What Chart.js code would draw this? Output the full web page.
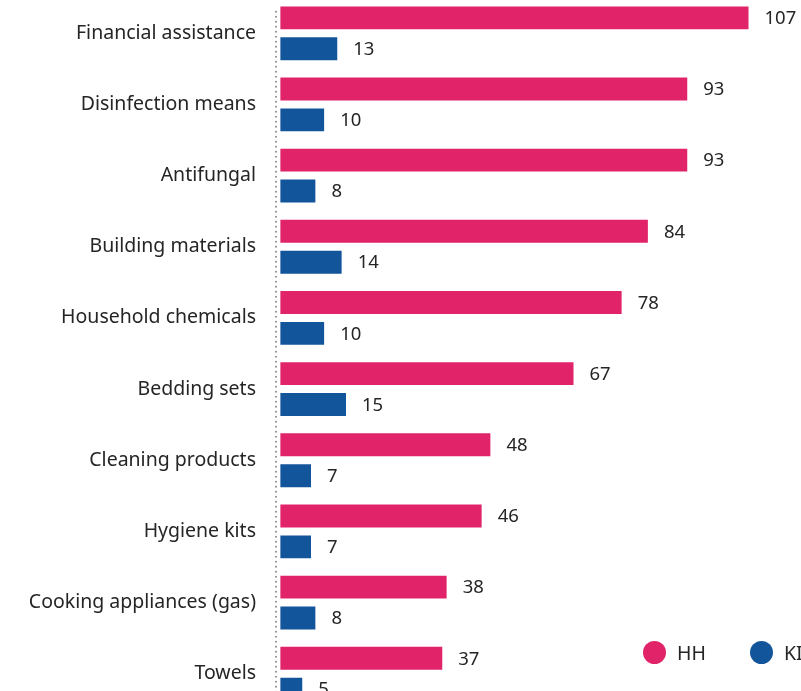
<!DOCTYPE html>
<html>
<head>
<meta charset="utf-8">
<script src="https://cdn.jsdelivr.net/npm/chart.js@4/dist/chart.umd.min.js"></script>
<style>
	html, body { margin: 0; padding: 0; background: #fff; overflow: hidden; }
	.wrap { position: relative; width: 801px; height: 691px; overflow: hidden; }
	.chart-holder { position: absolute; left: 0; top: -14px; width: 801px; height: 735px; }
	.legend { position: absolute; left: 643px; top: 641px; display: flex; font-family: "Noto Sans", sans-serif; font-size: 19.5px; color: #252525; }
	.legend-item { display: flex; align-items: center; margin-right: 44px; height: 23px; }
	.legend-dot { width: 23px; height: 23px; border-radius: 50%; margin-right: 11px; }
</style>
</head>
<body>
<div class="wrap">
	<div class="chart-holder"><canvas id="aidChart" width="801" height="735"></canvas></div>
	<div class="legend" id="legend"></div>
</div>
<script>
var categories = [
	"Financial assistance",
	"Disinfection means",
	"Antifungal",
	"Building materials",
	"Household chemicals",
	"Bedding sets",
	"Cleaning products",
	"Hygiene kits",
	"Cooking appliances (gas)",
	"Towels"
];
var hhValues = [107, 93, 93, 84, 78, 67, 48, 46, 38, 37];
var kiValues = [13, 10, 8, 14, 10, 15, 7, 7, 8, 5];

var seriesNames = ["HH", "KI"];
var seriesColors = ["#E1236A", "#12559B"];

var fontFamily = "'Noto Sans', sans-serif";
var textColor = "#252525";

// value printed just past the end of every bar
var barValueLabels = {
	id: "barValueLabels",
	afterDatasetsDraw: function(chart) {
		var ctx = chart.ctx;
		ctx.save();
		ctx.font = "18.5px " + fontFamily;
		ctx.fillStyle = textColor;
		ctx.textAlign = "left";
		ctx.textBaseline = "middle";
		chart.data.datasets.forEach(function(ds, i) {
			var meta = chart.getDatasetMeta(i);
			meta.data.forEach(function(bar, j) {
				ctx.fillText(ds.data[j], bar.x + 16, bar.y + 1);
			});
		});
		ctx.restore();
	}
};

// dotted axis line left of the bars
var dottedAxis = {
	id: "dottedAxis",
	beforeDatasetsDraw: function(chart) {
		var ctx = chart.ctx;
		var area = chart.chartArea;
		ctx.save();
		ctx.strokeStyle = "#8a8a8a";
		ctx.lineWidth = 2;
		ctx.lineCap = "round";
		ctx.setLineDash([0, 5]);
		ctx.beginPath();
		ctx.moveTo(area.left, area.top + 14);
		ctx.lineTo(area.left, area.bottom);
		ctx.stroke();
		ctx.restore();
	}
};

var chart = new Chart(document.getElementById("aidChart"), {
	type: "bar",
	data: {
		labels: categories,
		datasets: [
			{ label: seriesNames[0], data: hhValues, backgroundColor: seriesColors[0] },
			{ label: seriesNames[1], data: kiValues, backgroundColor: seriesColors[1] }
		]
	},
	options: {
		indexAxis: "y",
		responsive: false,
		animation: false,
		categoryPercentage: 0.868,
		barPercentage: 0.742,
		layout: { padding: 0 },
		scales: {
			x: {
				display: false,
				min: -1,
				max: 119
			},
			y: {
				afterFit: function(scale) { scale.width = 276; },
				grid: {
					display: true,
					drawOnChartArea: false,
					drawTicks: true,
					tickLength: 20,
					color: "rgba(0,0,0,0)"
				},
				border: { display: false },
				ticks: {
					padding: 0,
					color: textColor,
					font: { family: fontFamily, size: 19.5 }
				}
			}
		},
		plugins: {
			legend: { display: false },
			tooltip: { enabled: false }
		}
	},
	plugins: [dottedAxis, barValueLabels]
});

// legend with round markers in the lower right corner
var legendEl = document.getElementById("legend");
seriesNames.forEach(function(name, i) {
	var item = document.createElement("div");
	item.className = "legend-item";
	var dot = document.createElement("span");
	dot.className = "legend-dot";
	dot.style.background = seriesColors[i];
	item.appendChild(dot);
	item.appendChild(document.createTextNode(name));
	legendEl.appendChild(item);
});
</script>
</body>
</html>
